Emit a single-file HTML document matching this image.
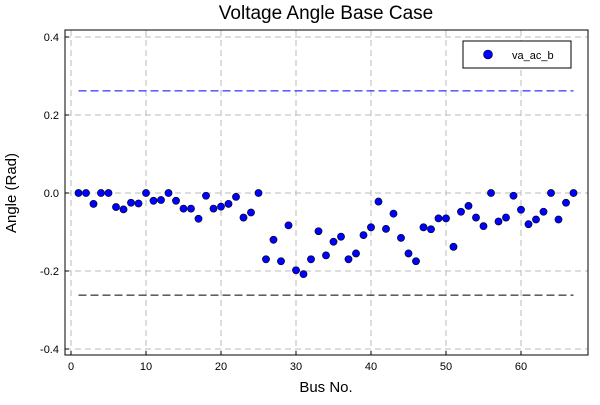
<!DOCTYPE html>
<html><head><meta charset="utf-8"><style>
body{margin:0;background:#fff;}
text{font-family:"Liberation Sans","DejaVu Sans",sans-serif;}
</style></head><body>
<svg id="chart" width="600" height="400" xmlns="http://www.w3.org/2000/svg"></svg>
<script>
const buses = [];
for (let i = 1; i <= 67; i++) buses.push(i);
const angles = [0,0,-0.028,0,0,-0.036,-0.042,-0.025,-0.027,0,-0.02,-0.018,0,-0.02,-0.04,-0.04,-0.066,-0.007,-0.04,-0.035,-0.028,-0.01,-0.063,-0.05,0,-0.17,-0.12,-0.175,-0.083,-0.198,-0.208,-0.17,-0.098,-0.16,-0.125,-0.112,-0.17,-0.155,-0.108,-0.088,-0.022,-0.092,-0.053,-0.115,-0.155,-0.175,-0.088,-0.093,-0.065,-0.065,-0.138,-0.048,-0.033,-0.063,-0.085,0,-0.073,-0.063,-0.007,-0.043,-0.08,-0.068,-0.048,0,-0.068,-0.025,0];
const limits = [0.262, -0.262];
const limitColors = ["#0000ff", "#000000"];
const xTicks = [0,10,20,30,40,50,60];
const yTicks = [0.4,0.2,0.0,-0.2,-0.4];
const yTickLabels = ["0.4","0.2","0.0","-0.2","-0.4"];

const L=65,R=588,T=30,B=355;
const X=v=>71+v*7.5;
const Y=v=>193-v*390;
const svg=document.getElementById('chart');
const NS="http://www.w3.org/2000/svg";
function mk(tag,attrs,parent){const e=document.createElementNS(NS,tag);for(const k in attrs)e.setAttribute(k,attrs[k]);(parent||svg).appendChild(e);return e;}

const grid=mk('g',{});


xTicks.forEach(t=>{mk('line',{x1:X(t),x2:X(t),y1:T,y2:B,stroke:'#bbb','stroke-dasharray':'6,4'},grid);});
yTicks.forEach(t=>{mk('line',{x1:L,x2:R,y1:Y(t),y2:Y(t),stroke:'#bbb','stroke-dasharray':'6,4'},grid);});

const frame=mk('rect',{x:L,y:T,width:R-L,height:B-T,fill:'none',stroke:'#000','stroke-width':1});



xTicks.forEach(t=>{
  mk('line',{x1:X(t),x2:X(t),y1:B,y2:B-4,stroke:'#000'});
  const tx=mk('text',{x:X(t),y:B+15,'font-size':11,'text-anchor':'middle'});tx.textContent=t;
  
  
});
yTicks.forEach((t,i)=>{
  mk('line',{x1:L,x2:L+4,y1:Y(t),y2:Y(t),stroke:'#000'});
  const tx=mk('text',{x:L-6,y:Y(t)+4,'font-size':11,'text-anchor':'end'});tx.textContent=yTickLabels[i];
  
  
});

limits.forEach((v,i)=>{
  const ln=mk('line',{x1:X(buses[0]),x2:X(buses[buses.length-1]),y1:Y(v),y2:Y(v),stroke:limitColors[i],'stroke-dasharray':'8,4','stroke-width':1});
  
  
});

buses.forEach((b,i)=>{
  const c=mk('circle',{cx:X(b),cy:Y(angles[i]),r:3.6,fill:'#0000ff',stroke:'#000','stroke-width':0.6});
  
  
});

const title=mk('text',{x:326,y:19,'font-size':19,'text-anchor':'middle'});title.textContent='Voltage Angle Base Case';


const xl=mk('text',{x:326,y:392,'font-size':15,'text-anchor':'middle'});xl.textContent='Bus No.';


const yl=mk('text',{x:16,y:193,'font-size':15,'text-anchor':'middle',transform:'rotate(-90 16 193)'});yl.textContent='Angle (Rad)';



const lg=mk('g',{});


mk('rect',{x:463,y:41,width:108,height:27,fill:'#fff',stroke:'#000'},lg);
mk('circle',{cx:488,cy:54.5,r:4.5,fill:'#0000ff',stroke:'#000','stroke-width':0.6},lg);
const lt=mk('text',{x:512,y:59,'font-size':11},lg);lt.textContent='va_ac_b';


</script>
</body></html>
